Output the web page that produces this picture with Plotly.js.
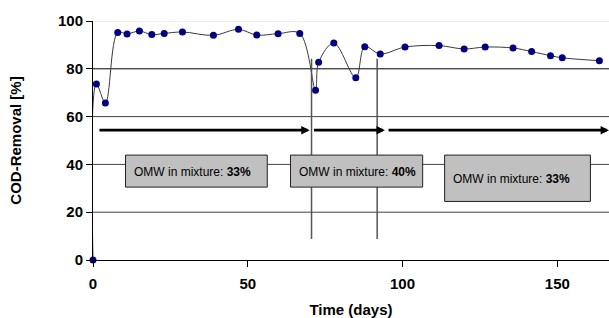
<!DOCTYPE html>
<html><head><meta charset="utf-8">
<script src="https://cdn.plot.ly/plotly-3.0.1.min.js"></script>
<style>html,body{margin:0;padding:0;background:#fff}#chart{width:609px;height:318px}</style>
</head><body><div id="chart"></div>
<script>
// ---- data ----
const days = [0, 1.1, 4.0, 8.0, 11.0, 15.0, 19.0, 23.0, 28.9, 38.9, 47.0, 52.9, 59.8, 66.8, 71.9, 72.9, 77.8, 84.9, 87.8, 92.8, 100.8, 111.8, 119.9, 126.7, 135.7, 141.7, 147.8, 151.6, 163.6];
const codRemoval = [0, 73.6, 65.7, 95.2, 94.6, 95.8, 94.3, 94.8, 95.4, 94.0, 96.5, 94.1, 94.7, 94.8, 71.0, 82.7, 90.8, 76.3, 89.2, 86.2, 89.1, 89.7, 88.3, 89.1, 88.7, 87.2, 85.5, 84.6, 83.4];
const xTicks = [0, 50, 100, 150];
const yTicks = [0, 20, 40, 60, 80, 100];
const phaseLabels = ['33%', '40%', '33%'];
const phaseStart = [1.6, 70.9, 95.0];
const phaseEnd = [70.0, 94.3, 166.7];
const switchDays = [70.6, 91.8];

// ---- decoration geometry (not data) ----
const arrowLevel = 54.3;
const switchLineRange = [8.8, 84.2];
const boxes = [
  {x0: 10.5, x1: 56.3, y0: 30.5, y1: 43.9, tx: 12.6, ty: 36.9},
  {x0: 63.8, x1: 106.5, y0: 30.5, y1: 43.9, tx: 65.9, ty: 36.9},
  {x0: 113.6, x1: 160.7, y0: 24.5, y1: 43.9, tx: 115.6, ty: 34.1}
];
const gridColors = {0: 'rgba(0,0,0,0)', 20: '#444', 40: '#444', 60: '#444', 80: '#000', 100: '#dcdcdc'};
const FONT = 'Arial, "Liberation Sans", sans-serif';

const shapes = [];
yTicks.forEach(v => {
  if (v === 0) return;
  shapes.push({type: 'line', xref: 'paper', yref: 'y', x0: 0, x1: 1, y0: v, y1: v,
    line: {color: gridColors[v], width: 1}, layer: 'below'});
});
switchDays.forEach(d => {
  shapes.push({type: 'line', xref: 'x', yref: 'y', x0: d, x1: d, y0: switchLineRange[0], y1: switchLineRange[1],
    line: {color: '#555', width: 1.5}, layer: 'above'});
});
boxes.forEach(b => {
  shapes.push({type: 'rect', xref: 'x', yref: 'y', x0: b.x0, x1: b.x1, y0: b.y0, y1: b.y1,
    fillcolor: '#c0c0c0', line: {color: '#222', width: 1}, layer: 'above'});
});

const annotations = [];
phaseStart.forEach((s, i) => {
  annotations.push({x: phaseEnd[i], y: arrowLevel, ax: s, ay: arrowLevel, xref: 'x', yref: 'y',
    axref: 'x', ayref: 'y', text: '', showarrow: true, arrowhead: 2, arrowsize: 0.6,
    arrowwidth: 2.8, arrowcolor: '#000', standoff: 0, startstandoff: 0});
});
boxes.forEach((b, i) => {
  annotations.push({x: b.tx, y: b.ty, xref: 'x', yref: 'y', xanchor: 'left', yanchor: 'middle',
    showarrow: false, text: 'OMW in mixture: <b>' + phaseLabels[i] + '</b>',
    font: {family: FONT, size: 12, color: '#000'}});
});

const trace = {
  x: days, y: codRemoval, type: 'scatter', mode: 'lines+markers',
  line: {shape: 'spline', smoothing: 1, color: '#3a3a3a', width: 1},
  marker: {color: '#000080', size: 7},
  cliponaxis: false
};

const layout = {
  width: 609, height: 318,
  margin: {l: 93, r: 0, t: 21, b: 58},
  paper_bgcolor: '#fff', plot_bgcolor: '#fff',
  showlegend: false,
  font: {family: FONT, color: '#000'},
  xaxis: {
    range: [0, 166.7], tickvals: xTicks, ticktext: xTicks.map(String),
    showgrid: false, zeroline: false, showline: true, linecolor: '#000', linewidth: 1,
    ticks: 'outside', ticklen: 6, tickcolor: '#000', ticklabelstandoff: 4,
    tickfont: {family: FONT, size: 15, color: '#000', weight: 'bold'},
    title: {text: '<b>Time (days)</b>', font: {family: FONT, size: 15, color: '#000'}, standoff: 18}
  },
  yaxis: {
    range: [0, 100], tickvals: yTicks, ticktext: yTicks.map(String),
    showgrid: false, zeroline: false, showline: true, linecolor: '#000', linewidth: 1,
    ticks: 'outside', ticklen: 6, tickcolor: '#000',
    tickfont: {family: FONT, size: 15, color: '#000', weight: 'bold'},
    title: {text: '<b>COD-Removal [%]</b>', font: {family: FONT, size: 15, color: '#000'}, standoff: 32}
  },
  shapes: shapes,
  annotations: annotations
};

Plotly.newPlot('chart', [trace], layout, {displayModeBar: false, staticPlot: true});
</script>
</body></html>
